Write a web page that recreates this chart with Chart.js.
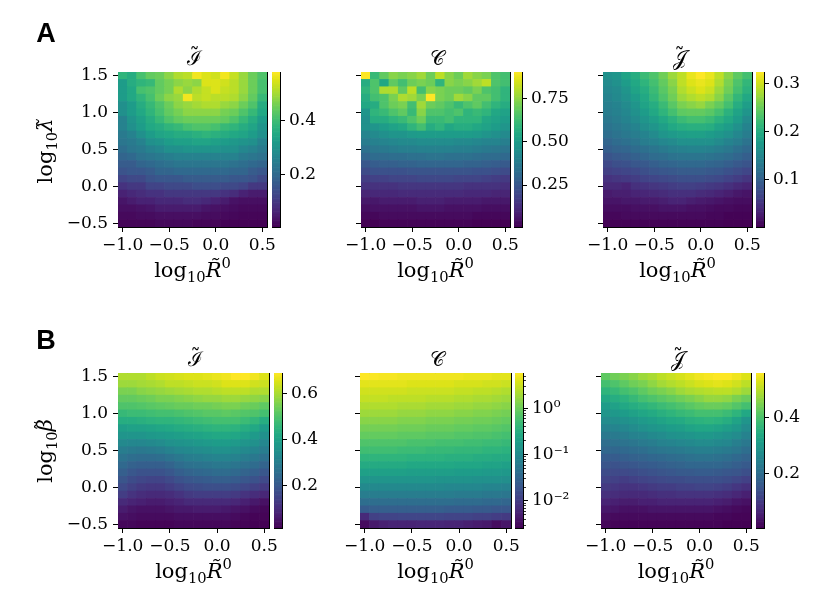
<!DOCTYPE html>
<html><head><meta charset="utf-8">
<script src="https://cdn.jsdelivr.net/npm/chart.js@4.4.0/dist/chart.umd.min.js"></script>
<style>
html,body{margin:0;padding:0;background:#fff;}
body{width:830px;height:614px;position:relative;overflow:hidden;}
canvas{position:absolute;}
.txt{position:absolute;font-family:'DejaVu Serif',serif;color:#000;white-space:nowrap;transform:translate(-50%,-50%);line-height:1;}
.lbl{font-size:21px;}
.ttl{font-size:20px;}
.rot{transform:translate(-50%,-50%) rotate(-90deg);}
.pan{position:absolute;font-family:'Liberation Sans',sans-serif;font-weight:bold;font-size:27px;transform:translate(-50%,-50%);line-height:1;}
sub{font-size:70%;vertical-align:-0.35em;line-height:0;}
sup{font-size:70%;vertical-align:0.55em;line-height:0;}
.acc{position:relative;display:inline-block;}
.tld{position:absolute;left:50%;transform:translateX(-50%);font-style:normal;line-height:1;}
</style></head><body>
<script>
// ---------- data ----------
const xCenters = [-1.0,-0.9,-0.8,-0.7,-0.6,-0.5,-0.4,-0.3,-0.2,-0.1,0.0,0.1,0.2,0.3,0.4,0.5];
const yCenters = [1.5,1.4,1.3,1.2,1.1,1.0,0.9,0.8,0.7,0.6,0.5,0.4,0.3,0.2,0.1,0.0,-0.1,-0.2,-0.3,-0.4,-0.5];
const xTicks = [-1.0,-0.5,0.0,0.5];
const yTicks = [-0.5,0.0,0.5,1.0,1.5];

// Row A: vs log10 lambda (rows top = 1.5 down to -0.5)
const I_lambda = [
[0.38,0.36,0.41,0.44,0.45,0.48,0.51,0.52,0.57,0.55,0.54,0.57,0.53,0.49,0.45,0.42],
[0.32,0.36,0.38,0.39,0.44,0.46,0.48,0.49,0.48,0.55,0.55,0.54,0.52,0.49,0.45,0.41],
[0.32,0.35,0.41,0.42,0.44,0.46,0.51,0.48,0.51,0.53,0.55,0.53,0.52,0.49,0.45,0.41],
[0.32,0.35,0.38,0.41,0.45,0.48,0.49,0.57,0.52,0.53,0.52,0.52,0.51,0.48,0.44,0.39],
[0.29,0.32,0.36,0.39,0.42,0.45,0.48,0.49,0.50,0.51,0.51,0.49,0.48,0.45,0.42,0.36],
[0.29,0.32,0.35,0.38,0.41,0.44,0.46,0.48,0.48,0.48,0.48,0.46,0.45,0.42,0.39,0.35],
[0.26,0.30,0.33,0.36,0.39,0.42,0.44,0.45,0.45,0.45,0.45,0.44,0.42,0.39,0.36,0.32],
[0.26,0.29,0.32,0.35,0.36,0.38,0.39,0.41,0.42,0.42,0.41,0.39,0.38,0.36,0.34,0.30],
[0.24,0.26,0.29,0.32,0.34,0.35,0.36,0.36,0.37,0.38,0.37,0.36,0.35,0.34,0.32,0.29],
[0.23,0.24,0.26,0.29,0.30,0.32,0.33,0.33,0.34,0.34,0.33,0.32,0.31,0.30,0.29,0.26],
[0.21,0.23,0.24,0.26,0.27,0.29,0.29,0.30,0.30,0.30,0.30,0.29,0.29,0.27,0.26,0.24],
[0.19,0.20,0.22,0.23,0.24,0.25,0.26,0.26,0.26,0.26,0.26,0.26,0.26,0.24,0.23,0.22],
[0.17,0.17,0.19,0.20,0.21,0.22,0.23,0.23,0.23,0.23,0.23,0.23,0.22,0.21,0.20,0.19],
[0.15,0.16,0.16,0.17,0.19,0.19,0.20,0.20,0.20,0.20,0.20,0.20,0.19,0.19,0.17,0.16],
[0.12,0.13,0.13,0.15,0.16,0.16,0.16,0.17,0.17,0.17,0.17,0.17,0.16,0.16,0.15,0.13],
[0.09,0.10,0.10,0.12,0.12,0.13,0.13,0.13,0.14,0.14,0.14,0.13,0.13,0.12,0.10,0.10],
[0.06,0.07,0.08,0.09,0.09,0.10,0.10,0.10,0.10,0.10,0.10,0.09,0.08,0.06,0.05,0.05],
[0.04,0.05,0.06,0.06,0.07,0.07,0.07,0.08,0.08,0.07,0.06,0.05,0.035,0.03,0.03,0.03],
[0.03,0.03,0.035,0.04,0.05,0.05,0.05,0.05,0.05,0.04,0.035,0.03,0.025,0.02,0.02,0.02],
[0.02,0.02,0.025,0.025,0.03,0.03,0.03,0.03,0.03,0.025,0.025,0.02,0.015,0.012,0.012,0.012],
[0.012,0.012,0.012,0.012,0.018,0.018,0.018,0.018,0.012,0.012,0.012,0.008,0.006,0.006,0.006,0.006]
];
const C_lambda = [
[0.90,0.61,0.68,0.74,0.72,0.74,0.77,0.70,0.81,0.74,0.70,0.77,0.74,0.72,0.65,0.63],
[0.56,0.65,0.54,0.68,0.63,0.70,0.72,0.70,0.59,0.74,0.72,0.74,0.77,0.81,0.65,0.63],
[0.59,0.65,0.79,0.79,0.68,0.81,0.63,0.74,0.72,0.70,0.70,0.68,0.72,0.65,0.63,0.59],
[0.56,0.63,0.65,0.72,0.79,0.77,0.72,0.90,0.72,0.70,0.77,0.74,0.68,0.68,0.63,0.59],
[0.54,0.56,0.65,0.70,0.72,0.63,0.77,0.70,0.68,0.65,0.61,0.65,0.68,0.63,0.59,0.56],
[0.47,0.59,0.61,0.65,0.68,0.61,0.74,0.65,0.65,0.63,0.65,0.59,0.61,0.59,0.54,0.52],
[0.45,0.56,0.56,0.59,0.61,0.65,0.70,0.61,0.61,0.63,0.59,0.59,0.59,0.54,0.52,0.50],
[0.45,0.47,0.50,0.52,0.54,0.59,0.63,0.56,0.59,0.54,0.56,0.56,0.54,0.52,0.50,0.47],
[0.41,0.43,0.45,0.47,0.47,0.49,0.50,0.50,0.50,0.50,0.50,0.50,0.49,0.47,0.45,0.43],
[0.38,0.40,0.41,0.42,0.43,0.43,0.44,0.44,0.44,0.44,0.43,0.43,0.42,0.41,0.41,0.39],
[0.34,0.36,0.37,0.38,0.39,0.39,0.40,0.40,0.40,0.40,0.39,0.39,0.38,0.37,0.36,0.35],
[0.30,0.32,0.32,0.33,0.33,0.34,0.34,0.35,0.35,0.34,0.34,0.34,0.33,0.32,0.32,0.31],
[0.25,0.27,0.28,0.28,0.29,0.29,0.30,0.30,0.30,0.30,0.30,0.29,0.29,0.28,0.27,0.26],
[0.21,0.23,0.23,0.23,0.23,0.24,0.24,0.24,0.24,0.24,0.24,0.24,0.23,0.23,0.22,0.21],
[0.17,0.18,0.18,0.19,0.19,0.19,0.20,0.20,0.20,0.20,0.19,0.19,0.19,0.18,0.17,0.16],
[0.14,0.14,0.14,0.14,0.15,0.15,0.15,0.15,0.15,0.15,0.15,0.14,0.14,0.14,0.14,0.13],
[0.10,0.11,0.11,0.11,0.12,0.12,0.12,0.12,0.12,0.12,0.12,0.11,0.11,0.11,0.10,0.10],
[0.07,0.07,0.08,0.08,0.08,0.08,0.09,0.09,0.09,0.08,0.08,0.08,0.08,0.07,0.07,0.07],
[0.045,0.054,0.054,0.054,0.054,0.054,0.063,0.063,0.063,0.054,0.054,0.054,0.054,0.045,0.045,0.045],
[0.027,0.027,0.036,0.036,0.036,0.036,0.036,0.036,0.036,0.036,0.036,0.036,0.027,0.027,0.027,0.027],
[0.009,0.009,0.018,0.018,0.018,0.018,0.018,0.018,0.018,0.018,0.018,0.018,0.009,0.009,0.009,0.009]
];
const J_lambda = [
[0.163,0.169,0.189,0.202,0.221,0.234,0.254,0.276,0.293,0.315,0.325,0.315,0.293,0.267,0.244,0.228],
[0.156,0.163,0.179,0.195,0.211,0.228,0.247,0.267,0.293,0.309,0.315,0.309,0.286,0.260,0.234,0.215],
[0.150,0.156,0.169,0.189,0.202,0.221,0.241,0.260,0.286,0.299,0.309,0.299,0.276,0.254,0.228,0.208],
[0.146,0.153,0.163,0.179,0.195,0.215,0.234,0.254,0.276,0.286,0.293,0.286,0.267,0.241,0.215,0.195],
[0.140,0.146,0.156,0.169,0.189,0.202,0.221,0.241,0.260,0.267,0.273,0.260,0.247,0.228,0.202,0.182],
[0.137,0.143,0.150,0.163,0.179,0.195,0.211,0.228,0.244,0.247,0.247,0.241,0.228,0.208,0.189,0.169],
[0.130,0.137,0.146,0.156,0.169,0.182,0.195,0.208,0.221,0.228,0.228,0.221,0.208,0.195,0.179,0.156],
[0.124,0.130,0.137,0.146,0.159,0.169,0.182,0.195,0.202,0.205,0.205,0.202,0.189,0.179,0.163,0.146],
[0.117,0.124,0.130,0.137,0.146,0.156,0.169,0.176,0.182,0.185,0.185,0.179,0.172,0.163,0.150,0.137],
[0.107,0.114,0.120,0.127,0.137,0.143,0.150,0.156,0.163,0.163,0.163,0.163,0.156,0.146,0.137,0.124],
[0.098,0.104,0.107,0.114,0.120,0.127,0.133,0.140,0.143,0.146,0.146,0.143,0.137,0.130,0.120,0.111],
[0.085,0.091,0.094,0.101,0.107,0.114,0.117,0.124,0.127,0.127,0.127,0.124,0.120,0.114,0.107,0.098],
[0.072,0.078,0.081,0.088,0.091,0.098,0.104,0.107,0.111,0.111,0.111,0.107,0.104,0.098,0.091,0.085],
[0.062,0.065,0.068,0.072,0.078,0.085,0.088,0.091,0.094,0.094,0.094,0.091,0.088,0.081,0.075,0.068],
[0.049,0.052,0.055,0.059,0.065,0.068,0.072,0.075,0.078,0.078,0.078,0.075,0.072,0.065,0.059,0.052],
[0.039,0.039,0.033,0.046,0.049,0.052,0.055,0.059,0.062,0.062,0.059,0.055,0.052,0.046,0.039,0.033],
[0.026,0.029,0.029,0.033,0.036,0.039,0.042,0.046,0.046,0.046,0.042,0.039,0.033,0.029,0.023,0.020],
[0.020,0.020,0.023,0.023,0.026,0.026,0.029,0.033,0.033,0.029,0.026,0.023,0.020,0.016,0.013,0.013],
[0.013,0.013,0.013,0.016,0.016,0.016,0.020,0.020,0.020,0.016,0.016,0.013,0.010,0.010,0.007,0.007],
[0.007,0.007,0.010,0.010,0.010,0.010,0.010,0.010,0.010,0.010,0.010,0.007,0.007,0.003,0.003,0.003],
[0.003,0.003,0.003,0.003,0.003,0.003,0.003,0.003,0.003,0.003,0.003,0.003,0.003,0.001,0.001,0.001]
];
// Row B: vs log10 beta
const I_beta = [
[0.609,0.609,0.609,0.623,0.636,0.643,0.650,0.656,0.656,0.663,0.670,0.677,0.690,0.690,0.677,0.656],
[0.589,0.589,0.596,0.602,0.609,0.623,0.623,0.629,0.636,0.636,0.643,0.656,0.656,0.656,0.643,0.636],
[0.555,0.555,0.569,0.576,0.582,0.589,0.596,0.602,0.609,0.609,0.616,0.623,0.623,0.623,0.609,0.609],
[0.528,0.528,0.535,0.542,0.555,0.555,0.562,0.569,0.576,0.582,0.582,0.589,0.589,0.582,0.576,0.569],
[0.502,0.502,0.508,0.515,0.522,0.528,0.535,0.535,0.542,0.542,0.549,0.555,0.555,0.542,0.535,0.522],
[0.468,0.475,0.475,0.481,0.488,0.488,0.495,0.502,0.508,0.515,0.515,0.522,0.515,0.508,0.502,0.488],
[0.434,0.434,0.441,0.448,0.454,0.454,0.461,0.468,0.475,0.481,0.488,0.488,0.488,0.475,0.461,0.434],
[0.394,0.401,0.401,0.407,0.414,0.421,0.428,0.434,0.441,0.448,0.454,0.454,0.448,0.434,0.421,0.387],
[0.367,0.367,0.367,0.374,0.380,0.387,0.394,0.401,0.407,0.414,0.421,0.421,0.414,0.401,0.380,0.354],
[0.333,0.327,0.327,0.333,0.340,0.354,0.360,0.367,0.374,0.380,0.387,0.387,0.380,0.367,0.354,0.327],
[0.300,0.293,0.286,0.293,0.300,0.313,0.327,0.333,0.340,0.347,0.354,0.354,0.347,0.333,0.320,0.300],
[0.273,0.259,0.253,0.253,0.259,0.273,0.286,0.300,0.306,0.313,0.320,0.320,0.313,0.300,0.286,0.266],
[0.246,0.226,0.219,0.219,0.219,0.232,0.253,0.266,0.273,0.279,0.286,0.286,0.279,0.266,0.253,0.232],
[0.219,0.199,0.185,0.185,0.185,0.199,0.219,0.232,0.239,0.246,0.253,0.253,0.246,0.232,0.219,0.199],
[0.192,0.172,0.158,0.152,0.152,0.165,0.185,0.199,0.205,0.212,0.219,0.219,0.212,0.199,0.185,0.165],
[0.165,0.145,0.131,0.125,0.125,0.138,0.152,0.165,0.172,0.179,0.179,0.179,0.172,0.158,0.145,0.131],
[0.138,0.118,0.104,0.098,0.098,0.104,0.118,0.131,0.138,0.138,0.138,0.138,0.131,0.118,0.104,0.091],
[0.098,0.084,0.078,0.071,0.071,0.078,0.084,0.098,0.098,0.098,0.098,0.098,0.091,0.078,0.064,0.051],
[0.071,0.057,0.051,0.051,0.051,0.057,0.064,0.064,0.071,0.071,0.071,0.064,0.057,0.051,0.037,0.030],
[0.051,0.044,0.037,0.037,0.037,0.037,0.044,0.044,0.044,0.044,0.044,0.044,0.037,0.030,0.024,0.024],
[0.030,0.030,0.024,0.024,0.024,0.024,0.030,0.030,0.030,0.030,0.030,0.030,0.024,0.024,0.017,0.017]
];
const C_beta = [
[5.9,5.7,5.45,5.45,5.05,5.05,5.05,5.05,5.05,5.05,5.05,4.67,4.67,4.67,4.32,4.32],
[4.32,4.32,4.32,4.32,4.32,4.0,4.0,4.0,4.0,4.0,3.7,3.7,3.7,3.43,3.43,3.17],
[3.43,3.43,3.43,3.43,3.43,3.17,3.17,3.17,3.17,3.17,2.94,2.94,2.72,2.72,2.52,2.33],
[2.94,2.94,2.94,2.72,2.72,2.72,2.72,2.52,2.52,2.52,2.33,2.33,2.16,2.16,2.0,1.85],
[2.33,2.33,2.33,2.33,2.16,2.16,2.16,2.0,2.0,2.0,1.85,1.85,1.71,1.71,1.58,1.47],
[1.85,1.85,1.85,1.85,1.71,1.71,1.71,1.58,1.58,1.58,1.47,1.47,1.36,1.36,1.26,1.16],
[1.47,1.47,1.47,1.47,1.36,1.36,1.36,1.26,1.26,1.26,1.16,1.16,1.08,1.08,1.0,0.92],
[1.16,1.16,1.16,1.16,1.08,1.08,1.08,1.0,1.0,1.0,0.92,0.92,0.85,0.85,0.79,0.73],
[0.92,0.92,0.92,0.92,0.85,0.85,0.85,0.79,0.79,0.79,0.73,0.73,0.68,0.68,0.63,0.58],
[0.68,0.68,0.68,0.68,0.68,0.63,0.63,0.63,0.58,0.58,0.58,0.54,0.54,0.5,0.5,0.46],
[0.54,0.54,0.54,0.54,0.5,0.5,0.5,0.46,0.46,0.46,0.43,0.43,0.43,0.39,0.39,0.365],
[0.39,0.39,0.39,0.39,0.39,0.365,0.365,0.365,0.365,0.34,0.34,0.34,0.31,0.31,0.29,0.29],
[0.29,0.29,0.29,0.29,0.29,0.27,0.27,0.27,0.27,0.27,0.25,0.25,0.25,0.23,0.23,0.21],
[0.21,0.21,0.21,0.21,0.21,0.197,0.197,0.197,0.197,0.197,0.18,0.18,0.18,0.169,0.169,0.156],
[0.145,0.145,0.145,0.145,0.145,0.145,0.145,0.145,0.134,0.134,0.134,0.134,0.124,0.124,0.124,0.115],
[0.098,0.098,0.098,0.098,0.098,0.098,0.098,0.098,0.098,0.091,0.091,0.091,0.091,0.084,0.084,0.078],
[0.067,0.067,0.067,0.067,0.067,0.067,0.067,0.067,0.067,0.067,0.062,0.062,0.062,0.057,0.057,0.053],
[0.042,0.042,0.042,0.042,0.042,0.042,0.042,0.042,0.042,0.042,0.039,0.039,0.039,0.036,0.036,0.033],
[0.0244,0.0263,0.0263,0.0263,0.0263,0.0263,0.0263,0.0263,0.0263,0.0244,0.0244,0.0244,0.0226,0.0226,0.0209,0.0209],
[0.0066,0.0113,0.0122,0.0122,0.013,0.013,0.013,0.013,0.013,0.0122,0.0122,0.0122,0.0113,0.0113,0.0104,0.0097],
[0.0033,0.0045,0.0052,0.0056,0.0056,0.0056,0.006,0.006,0.006,0.0056,0.0056,0.0052,0.0048,0.0045,0.0035,0.0042]
];
const J_beta = [
[0.419,0.435,0.446,0.457,0.473,0.484,0.500,0.511,0.522,0.533,0.544,0.550,0.555,0.555,0.544,0.528],
[0.392,0.402,0.419,0.435,0.446,0.462,0.479,0.490,0.500,0.511,0.522,0.528,0.533,0.528,0.517,0.500],
[0.364,0.375,0.392,0.402,0.419,0.435,0.446,0.457,0.473,0.484,0.490,0.495,0.500,0.500,0.490,0.473],
[0.337,0.348,0.359,0.375,0.392,0.402,0.413,0.424,0.435,0.446,0.457,0.468,0.468,0.462,0.446,0.430],
[0.310,0.321,0.337,0.348,0.359,0.370,0.381,0.392,0.402,0.413,0.424,0.430,0.430,0.424,0.408,0.392],
[0.293,0.299,0.310,0.321,0.332,0.342,0.353,0.364,0.375,0.381,0.392,0.392,0.392,0.381,0.364,0.337],
[0.272,0.277,0.283,0.293,0.304,0.315,0.326,0.337,0.342,0.353,0.359,0.364,0.359,0.348,0.326,0.293],
[0.250,0.255,0.261,0.272,0.283,0.293,0.299,0.310,0.315,0.326,0.332,0.332,0.326,0.315,0.299,0.272],
[0.228,0.233,0.239,0.250,0.255,0.266,0.272,0.283,0.288,0.293,0.299,0.299,0.293,0.283,0.272,0.250],
[0.206,0.212,0.217,0.223,0.233,0.239,0.250,0.255,0.261,0.266,0.272,0.272,0.266,0.261,0.244,0.228],
[0.190,0.190,0.195,0.201,0.206,0.217,0.223,0.228,0.233,0.239,0.244,0.244,0.239,0.233,0.223,0.206],
[0.168,0.168,0.174,0.179,0.184,0.190,0.195,0.201,0.206,0.212,0.217,0.217,0.212,0.206,0.195,0.184],
[0.152,0.146,0.152,0.157,0.163,0.168,0.174,0.179,0.184,0.190,0.190,0.190,0.190,0.184,0.174,0.163],
[0.135,0.130,0.130,0.135,0.141,0.146,0.152,0.157,0.163,0.163,0.168,0.168,0.163,0.157,0.152,0.141],
[0.119,0.114,0.108,0.114,0.119,0.124,0.130,0.135,0.135,0.141,0.141,0.141,0.141,0.135,0.124,0.114],
[0.103,0.097,0.092,0.092,0.097,0.103,0.108,0.108,0.114,0.114,0.119,0.119,0.114,0.108,0.097,0.086],
[0.086,0.081,0.075,0.075,0.075,0.081,0.086,0.086,0.092,0.092,0.092,0.092,0.086,0.081,0.070,0.059],
[0.065,0.059,0.054,0.054,0.059,0.059,0.065,0.065,0.065,0.065,0.065,0.065,0.059,0.054,0.043,0.037],
[0.048,0.043,0.037,0.037,0.037,0.043,0.043,0.043,0.043,0.043,0.043,0.043,0.037,0.032,0.026,0.021],
[0.032,0.026,0.026,0.026,0.026,0.026,0.026,0.026,0.026,0.026,0.026,0.026,0.021,0.021,0.015,0.015],
[0.021,0.015,0.015,0.015,0.015,0.015,0.015,0.015,0.015,0.015,0.015,0.015,0.015,0.010,0.010,0.010]
];

// colour-bar ranges and ticks
const cbRangeA1 = [0.005, 0.58],  cbTicksA1 = [0.2, 0.4],        cbLabelsA1 = ['0.2','0.4'];
const cbRangeA2 = [0.009, 0.90],  cbTicksA2 = [0.25, 0.5, 0.75], cbLabelsA2 = ['0.25','0.50','0.75'];
const cbRangeA3 = [0.001, 0.325], cbTicksA3 = [0.1, 0.2, 0.3],   cbLabelsA3 = ['0.1','0.2','0.3'];
const cbRangeB1 = [0.017, 0.69],  cbTicksB1 = [0.2, 0.4, 0.6],   cbLabelsB1 = ['0.2','0.4','0.6'];
const cbRangeB2 = [0.0026, 5.9],  cbTicksB2 = [0.01, 0.1, 1],    cbLabelsB2 = ['10\u207B\u00B2','10\u207B\u00B9','10\u2070'];
const cbMinorB2 = [0.003,0.004,0.005,0.006,0.007,0.008,0.009,0.02,0.03,0.04,0.05,0.06,0.07,0.08,0.09,0.2,0.3,0.4,0.5,0.6,0.7,0.8,0.9,2,3,4,5];
const cbRangeB3 = [0.01, 0.555],  cbTicksB3 = [0.2, 0.4],        cbLabelsB3 = ['0.2','0.4'];

// ---------- drawing ----------
const VIR = ['#440154','#471164','#482475','#46337f','#414487','#3b528b','#355f8d','#2f6c8e','#2a788e','#25848e','#21918c','#1e9c89','#22a884','#2fb47c','#44bf70','#5ec962','#7ad151','#9dd93b','#bddf26','#dde318','#fde725'];
const VRGB = VIR.map(h=>[parseInt(h.slice(1,3),16),parseInt(h.slice(3,5),16),parseInt(h.slice(5,7),16)]);
function viridis(t){
  t = Math.max(0, Math.min(1, t));
  const p = t*(VRGB.length-1); const i = Math.min(VRGB.length-2, Math.floor(p)); const f = p-i;
  const a=VRGB[i], b=VRGB[i+1];
  return 'rgb('+a.map((v,k)=>Math.round(v+(b[k]-v)*f)).join(',')+')';
}
const TF = {family:"'DejaVu Serif'", size:17};
const INK = '#000';
const fmt1 = v => v.toFixed(1).replace('-', '\u2212');
Chart.defaults.animation = false;

function makeCanvas(left, top, w, h){
  const c = document.createElement('canvas');
  c.width = w; c.height = h;
  c.style.left = left+'px'; c.style.top = top+'px';
  c.style.width = w+'px'; c.style.height = h+'px';
  document.body.appendChild(c);
  return c;
}
function normFn(range, log){
  const [a,b] = range;
  return log ? v => (Math.log10(v)-Math.log10(a))/(Math.log10(b)-Math.log10(a)) : v => (v-a)/(b-a);
}
function frameAxis(pos){
  const horiz = (pos==='top'||pos==='bottom');
  return {type:'linear', position:pos, min:0, max:1, grid:{display:false}, ticks:{display:false},
    border:{display:true, color:INK, width:1},
    afterFit: s => { if (horiz) { s.height=0; s.paddingLeft=0; s.paddingRight=0; } else { s.width=0; s.paddingTop=0; s.paddingBottom=0; } }};
}

function heatmap(p){
  const YW=62, XH=32, PT=10, PR=16;
  const w=p.R-p.L, h=p.B-p.T;
  const cv = makeCanvas(p.L-YW, p.T-PT, YW+w+PR, PT+h+XH);
  const nf = normFn(p.range, p.log);
  const half = 0.05;
  const pts=[], cols=[];
  p.grid.forEach((row,r)=>row.forEach((v,c)=>{
    pts.push({x:xCenters[c], y:[yCenters[r]-half, yCenters[r]+half]});
    cols.push(viridis(nf(v)));
  }));
  new Chart(cv, {
    type:'bar',
    data:{datasets:[{data:pts, backgroundColor:cols, borderWidth:0, barPercentage:1, categoryPercentage:1}]},
    options:{
      responsive:false, events:[], animation:false,
      layout:{padding:{left:0, right:PR, top:PT, bottom:0}},
      plugins:{legend:{display:false}, tooltip:{enabled:false}},
      scales:{
        x:{type:'linear', min:-1.05, max:0.55, offset:false,
           grid:{display:true, offset:false, drawOnChartArea:false, drawTicks:true, tickLength:5, color:INK, tickColor:INK, tickWidth:1},
           border:{display:true, color:INK, width:1},
           ticks:{autoSkip:false, maxRotation:0, minRotation:0, padding:3, color:INK, font:TF, callback:v=>fmt1(v)},
           afterBuildTicks: s => { s.ticks = xTicks.map(v=>({value:v})); },
           afterFit: s => { s.height=XH; s.paddingLeft=0; s.paddingRight=0; }},
        y:{type:'linear', min:-0.55, max:1.55,
           grid:{display:true, drawOnChartArea:false, drawTicks:true, tickLength:5, color:INK, tickColor:INK, tickWidth:1},
           border:{display:true, color:INK, width:1},
           ticks:{autoSkip:false, padding:5, color:INK, font:TF, callback:v=> p.showY ? fmt1(v) : ''},
           afterBuildTicks: s => { s.ticks = yTicks.map(v=>({value:v})); },
           afterFit: s => { s.width=YW; s.paddingTop=0; s.paddingBottom=0; }},
        xt: frameAxis('top'),
        yr: frameAxis('right')
      }
    }
  });
}

function colorbar(p){
  const RW=62, PT=10, PL=2;
  const w=p.cbR-p.cbL, h=p.B-p.T;
  const cv = makeCanvas(p.cbL-PL, p.T-PT, PL+w+RW, PT+h+2);
  const [a,b] = p.range;
  const N = 120, pts=[], cols=[];
  for (let i=0;i<N;i++){
    let lo, hi;
    if (p.log){ const la=Math.log10(a), lb=Math.log10(b); lo=Math.pow(10, la+(lb-la)*i/N); hi=Math.pow(10, la+(lb-la)*(i+1)/N); }
    else { lo=a+(b-a)*i/N; hi=a+(b-a)*(i+1)/N; }
    pts.push({x:'c', y:[lo,hi]}); cols.push(viridis((i+0.5)/N));
  }
  const scales = {
    x:{type:'category', labels:['c'], offset:true, grid:{display:false}, ticks:{display:false},
       border:{display:true, color:INK, width:1},
       afterFit: s => { s.height=0; s.paddingLeft=0; s.paddingRight=0; }},
    y:{type: p.log?'logarithmic':'linear', position:'right', min:a, max:b, weight:1,
       grid:{display:true, drawOnChartArea:false, drawTicks:true, tickLength:5, color:INK, tickColor:INK},
       border:{display:true, color:INK, width:1},
       ticks:{autoSkip:false, padding:4, color:INK, font:TF, callback:(v,i)=>p.labels[i]},
       afterBuildTicks: s => { s.ticks = p.ticks.map(v=>({value:v})); },
       afterFit: s => { s.width=RW; s.paddingTop=0; s.paddingBottom=0; }},
    xt: frameAxis('top'),
    yl: frameAxis('left')
  };
  if (p.minor){
    scales.ym = {type:'logarithmic', position:'right', min:a, max:b, weight:0,
       grid:{display:true, drawOnChartArea:false, drawTicks:true, tickLength:3, color:INK, tickColor:INK, tickWidth:0.8},
       border:{display:false}, ticks:{display:false},
       afterBuildTicks: s => { s.ticks = p.minor.map(v=>({value:v})); },
       afterFit: s => { s.width=0; s.paddingTop=0; s.paddingBottom=0; }};
  }
  new Chart(cv, {
    type:'bar',
    data:{datasets:[{data:pts, backgroundColor:cols, borderWidth:0, barPercentage:1, categoryPercentage:1}]},
    options:{responsive:false, events:[], animation:false,
      layout:{padding:{left:PL, right:0, top:PT, bottom:2}},
      plugins:{legend:{display:false}, tooltip:{enabled:false}},
      scales}
  });
}

const rowA = {T:72, B:227}, rowB = {T:373, B:528};
const panels = [
  {...rowA, L:118, R:267, cbL:272, cbR:280, grid:I_lambda, range:cbRangeA1, ticks:cbTicksA1, labels:cbLabelsA1, showY:true},
  {...rowA, L:361, R:510, cbL:514, cbR:522, grid:C_lambda, range:cbRangeA2, ticks:cbTicksA2, labels:cbLabelsA2, showY:false},
  {...rowA, L:603, R:752, cbL:756, cbR:764, grid:J_lambda, range:cbRangeA3, ticks:cbTicksA3, labels:cbLabelsA3, showY:false},
  {...rowB, L:118, R:269, cbL:274, cbR:282, grid:I_beta, range:cbRangeB1, ticks:cbTicksB1, labels:cbLabelsB1, showY:true},
  {...rowB, L:360, R:511, cbL:515, cbR:523, grid:C_beta, range:cbRangeB2, ticks:cbTicksB2, labels:cbLabelsB2, showY:false, log:true, minor:cbMinorB2},
  {...rowB, L:601, R:751, cbL:756, cbR:764, grid:J_beta, range:cbRangeB3, ticks:cbTicksB3, labels:cbLabelsB3, showY:false}
];
panels.forEach(p => { heatmap(p); colorbar(p); });

// ---------- text ----------
function addText(html, x, y, cls){
  const d = document.createElement('div');
  d.className = cls; d.innerHTML = html;
  d.style.left = x+'px'; d.style.top = y+'px';
  document.body.appendChild(d);
}
const tl = (ch, top) => '<span class="acc">'+ch+'<span class="tld" style="top:'+top+'">\u02DC</span></span>';
const titles = [tl('\u2110','-0.14em'), '\uD835\uDC9E', tl('\uD835\uDCA5','-0.14em')];
const xLabel = 'log<sub>10</sub><i>R\u0303</i><sup>0</sup>';
panels.forEach((p,i) => {
  const cx = (p.L+p.R)/2 + 2;
  addText(titles[i%3], cx, p.T-14, 'txt ttl');
  addText(xLabel, (p.L+p.R)/2, p.B+43, 'txt lbl');
});
addText('log<sub>10</sub><i>\u03BB\u0303</i>', 45, 151, 'txt lbl rot');
addText('log<sub>10</sub><i>'+tl('\u03B2','-0.1em')+'</i>', 45, 451, 'txt lbl rot');
addText('A', 46, 33, 'pan');
addText('B', 46, 340, 'pan');
</script>
</body></html>
